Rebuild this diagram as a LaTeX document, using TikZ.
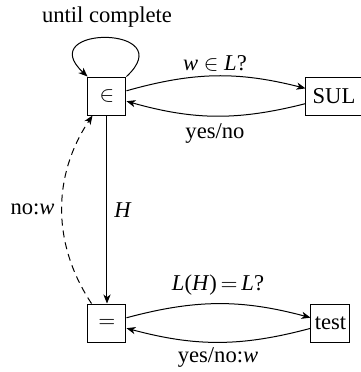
\documentclass[tikz,border=0pt]{standalone}
\usepackage{fontspec}
\setmainfont{Liberation Serif}
\usetikzlibrary{arrows.meta}
\begin{document}
\begin{tikzpicture}[x=0.5pt,y=-0.5pt,
  font=\fontsize{11.3}{13.5}\selectfont,
  line width=0.5pt,
  >={Stealth[length=4.5pt,width=3.6pt,inset=1.3pt]},
  box/.style={draw,minimum width=19pt,minimum height=19pt,inner sep=1pt},
  lbl/.style={inner sep=0pt}]
\useasboundingbox (0,0) rectangle (361,372);
\node[box] (in) at (107,96) {$\in$};
\node[box] (eq) at (107,323) {$=$};
\node[box,minimum width=28pt] (sul) at (334,96) {SUL};
\node[box,minimum width=19.5pt] (test) at (330.5,323) {test};

\draw[->] (in.north east) .. controls (182,25) and (32,25) .. (in.north west);
\node[lbl] (uc) at (107,17) {until complete};

\draw[->] (in) to[bend left=15] (sul);
\draw[->] (sul) to[bend left=15] (in);
\node[lbl] (q1) at (215,63) {\textit{w} $\in$ \textit{L}?};
\node[lbl] (a1) at (215,133) {yes/no};

\draw[->] (in) -- (eq);
\node[lbl] (h) at (123,210) {\textit{H}};

\coordinate (ds) at ([xshift=2pt]eq.north west);
\coordinate (de) at ([xshift=2.5pt]in.south west);
\draw[->,dash pattern=on 3.5pt off 2.5pt] (ds) .. controls (52,244) and (52,176) .. (de);
\node[lbl] (nw) at (32.5,209) {no:\textit{w}};

\draw[->] (eq) to[bend left=15] (test);
\draw[->] (test) to[bend left=15] (eq);
\node[lbl] (q2) at (218,285) {\textit{L}(\textit{H})\,$=$\,\textit{L}?};
\node[lbl] (a2) at (218,357) {yes/no:\textit{w}};
\end{tikzpicture}
\end{document}
